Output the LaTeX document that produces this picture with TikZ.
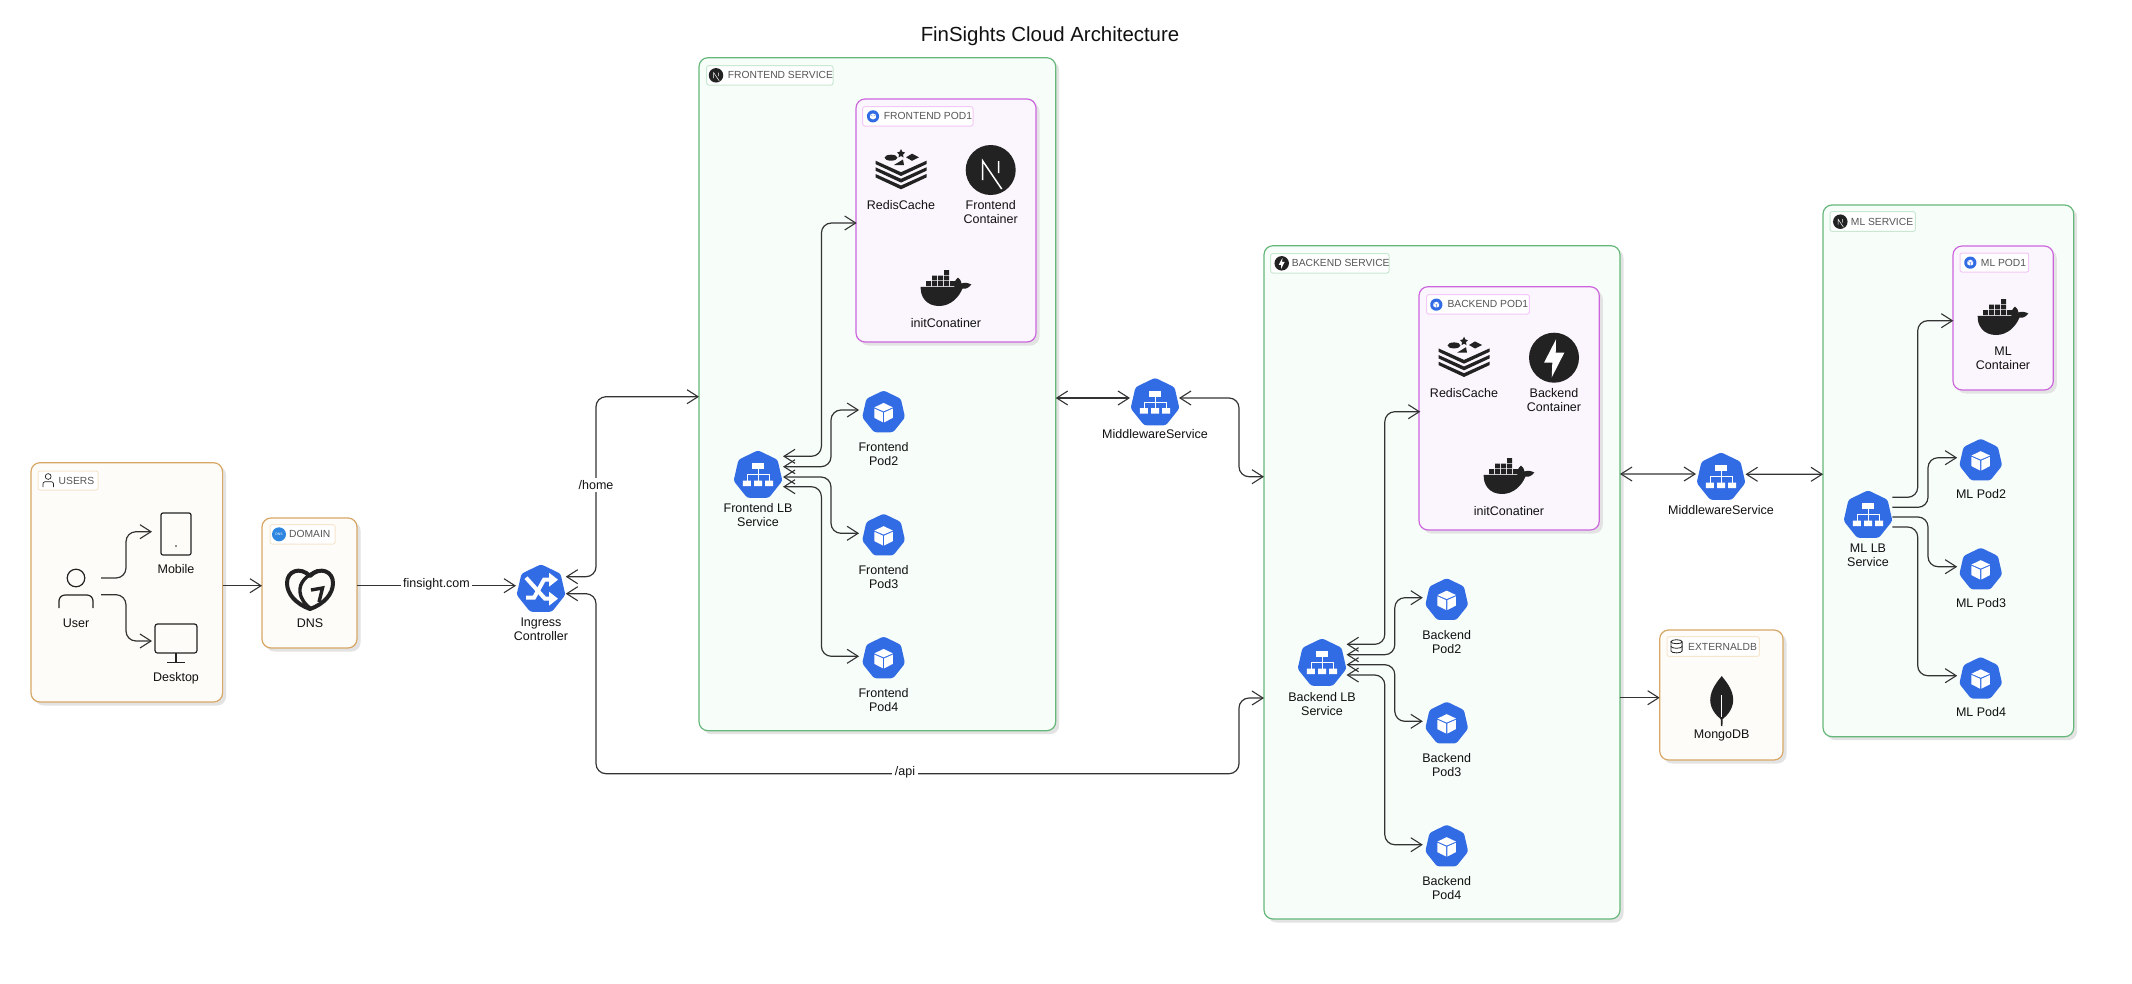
\documentclass[tikz,border=0pt]{standalone}
\usepackage{fontspec}
\setmainfont{Liberation Sans}
\usetikzlibrary{arrows.meta,shadows,calc}
\definecolor{kblue}{HTML}{326CE5}
\definecolor{ink}{HTML}{222222}
\definecolor{wire}{HTML}{333333}
\definecolor{txt}{HTML}{111111}
\definecolor{tagtxt}{HTML}{555555}
\definecolor{orb}{HTML}{D8A665}
\definecolor{orf}{HTML}{FDFCF8}
\definecolor{ort}{HTML}{F6E6CE}
\definecolor{grb}{HTML}{66B87A}
\definecolor{grf}{HTML}{F7FDF9}
\definecolor{grt}{HTML}{C8E8D2}
\definecolor{pkb}{HTML}{CC66DD}
\definecolor{pkf}{HTML}{FBF6FD}
\definecolor{pkt}{HTML}{F2C8F6}
\definecolor{dnsblue}{HTML}{2F86E0}
\tikzset{
  shad/.style={drop shadow={shadow xshift=3.5pt,shadow yshift=-3.5pt,fill=black!11,opacity=1}},
  boxbase/.style={line width=1.2pt,rounded corners=9pt,shad},
  orbox/.style={boxbase,draw=orb,fill=orf},
  grbox/.style={boxbase,draw=grb,fill=grf},
  pkbox/.style={boxbase,draw=pkb,fill=pkf},
  tagbase/.style={line width=1pt,rounded corners=2pt},
  ortag/.style={tagbase,draw=ort,fill=white},
  grtag/.style={tagbase,draw=grt,fill=white},
  pktag/.style={tagbase,draw=pkt,fill=white},
  tagtext/.style={anchor=west,inner sep=0pt,text=tagtxt,font=\fontsize{10.3}{12}\selectfont},
  lbl/.style={inner sep=0pt,yshift=-1pt,align=center,text=txt,font=\fontsize{12.5}{14}\selectfont},
  edgelbl/.style={fill=white,inner sep=2.5pt,text=txt,font=\fontsize{12.5}{14}\selectfont},
  iconb/.style={inner sep=0pt,outer sep=0pt,minimum size=#1},
  barb/.tip={Straight Barb[length=11pt,width=14pt,line width=1.1pt]},
  conn/.style={draw=wire,line width=1.2pt,rounded corners=10pt,-barb},
  conn2/.style={draw=wire,line width=1.2pt,rounded corners=10pt,barb-barb},
}
\newcommand{\boxn}[6]{%
  \pgfmathsetmacro\myw{#5-#3}\pgfmathsetmacro\myh{#6-#4}%
  \node[#1,minimum width=\myw pt,minimum height=\myh pt,anchor=north west,inner sep=0pt,outer sep=0pt] (#2) at (#3,#4) {};}
\newcommand{\atnode}[3][1]{\begin{scope}[shift={(#2.center)},x=1pt,y=1pt,scale=#1]#3\end{scope}}
\newcommand{\routed}[4][conn]{\draw[#1] (#2) -- (#2 -| #3) -- (#3 |- #4) -- (#4);}
% glyphs, y upward, about the origin
\newcommand{\hept}{\fill[kblue,rounded corners=2.5pt] (0,-1.3) ++(90:25) -- ($(0,-1.3)+(141.43:25)$) -- ($(0,-1.3)+(192.86:25)$) -- ($(0,-1.3)+(244.29:25)$) -- ($(0,-1.3)+(295.71:25)$) -- ($(0,-1.3)+(347.14:25)$) -- ($(0,-1.3)+(38.57:25)$) -- cycle;}
\newcommand{\cube}{\begin{scope}[yshift=-1.5pt]\fill[white] (0,11) -- (10.5,6) -- (0,1.5) -- (-10.5,6) -- cycle;
  \fill[white] (-10.5,4.6) -- (-.7,.2) -- (-.7,-11) -- (-10.5,-6) -- cycle;
  \fill[white] (10.5,4.6) -- (.7,.2) -- (.7,-11) -- (10.5,-6) -- cycle;\end{scope}}
\newcommand{\lbglyph}{\begin{scope}[yshift=-.7pt]\fill[white] (-6.3,5.7) rectangle (6.3,11.7);
  \draw[white,line width=.8pt] (0,5.7) -- (0,-6) (-11,-6) -- (-11,0) -- (11,0) -- (11,-6);
  \fill[white] (-15.2,-6) rectangle (-7.2,-11.3) (-4,-6) rectangle (4,-11.3) (7.2,-6) rectangle (15.2,-11.3);\end{scope}}
\newcommand{\ingglyph}{\begin{scope}[yshift=-.7pt]\draw[white,line width=4pt] (-15,11) -- (4,-10) -- (9,-10);
  \draw[white,line width=4pt] (-15,-9) -- (-7,-9) -- (3,9) -- (9,9);
  \fill[white] (8,16) -- (17,9) -- (8,2) -- cycle (8,-3) -- (17,-10) -- (8,-17) -- cycle;\end{scope}}
\newcommand{\nextic}[1]{\fill[ink] (0,0) circle (25);
  \draw[white,line width=#1] (-8,-10) -- (-8,9) -- (11,-19) (8,9) -- (8,-3);}
\newcommand{\fastic}{\fill[ink] (0,0) circle (25);
  \fill[white] (2,18.3) -- (-10,-5) -- (-1.7,-5) -- (-2.3,-19.7) -- (10.3,5) -- (1.7,5) -- cycle;}
\newcommand{\redis}{\fill[ink] \foreach \yy in {9.3,2.7,-4}{(-25.5,\yy) -- (0,\yy-11.5) -- (25.5,\yy) -- (25.5,\yy-3.4) -- (0,\yy-15.3) -- (-25.5,\yy-3.4) -- cycle};
  \fill[ink] (-10,12.3) ellipse (6.5 and 3);
  \fill[ink] (11,16.3) -- (18,12.7) -- (11,9.2) -- (5,12.7) -- cycle;
  \fill[ink] (-7,5) -- (3,5) -- (2,10.5) -- cycle;
  \fill[ink] (0,21) -- (1.3,18.3) -- (4,17.5) -- (2,15.5) -- (2.5,12.5) -- (0,14) -- (-2.5,12.5) -- (-2,15.5) -- (-4,17.5) -- (-1.3,18.3) -- cycle;}
\newcommand{\docker}{\fill[ink] (-25.3,1.2) -- (8.5,1.2) .. controls (7.5,5) and (9.5,8.5) .. (12,10.5) .. controls (14,9) and (15.5,6.5) .. (15.5,4.5) .. controls (18.5,6) and (22.5,5) .. (25.3,3.5) .. controls (23,.5) and (20,-1.5) .. (16.5,-.5) .. controls (13,-9) and (5,-18) .. (-7,-18) .. controls (-20,-18) and (-26,-8) .. (-25.3,1.2) -- cycle;
  \fill[ink] \foreach \xx in {-20,-14,-8,-2,4}{(\xx,2) rectangle ++(5.2,4.8)}
    \foreach \xx in {-14,-8,-2}{(\xx,7.6) rectangle ++(5.2,4.8)}
    (-2,13.2) rectangle ++(5.2,4.8);}
\newcommand{\leaf}{\fill[ink] (0,25) .. controls (3,21) and (11.5,12) .. (11.5,1) .. controls (11.5,-8) and (5,-15) .. (1,-18) -- (.7,-25) -- (-.7,-25) -- (-1,-18) .. controls (-5,-15) and (-11.5,-8) .. (-11.5,1) .. controls (-11.5,12) and (-3,21) .. (0,25) -- cycle;
  \draw[white,line width=.6pt] (0,6) -- (0,-16);}
\newcommand{\godaddy}{\draw[ink,line width=4pt,line join=round] (0,-20) .. controls (-14,-15) and (-23,-5) .. (-23,6) .. controls (-23,18) and (-10,23) .. (0,13) .. controls (10,23) and (23,18) .. (23,6) .. controls (23,-5) and (14,-15) .. (0,-20) -- cycle;
  \draw[ink,line width=3.4pt] (8,18.5) .. controls (-3,14) and (-11,7) .. (-10,-3) .. controls (-9,-11) and (-4,-16) .. (0,-19);
  \draw[ink,line width=3.4pt,line join=miter] (1,-1) -- (12.5,1) -- (9,-13);}
\begin{document}
\begin{tikzpicture}[x=1pt,y=-1pt]
\useasboundingbox (0,0) rectangle (2132,983);
\fill[white] (0,0) rectangle (2132,983);
\node[inner sep=0pt,text=txt,font=\fontsize{20.4}{24}\selectfont] (title) at (1050,36) {FinSights Cloud Architecture};
% containers
\boxn{orbox}{users}{31}{462.7}{222.6}{702}
\boxn{orbox}{domain}{262}{518}{357}{648}
\boxn{grbox}{fesvc}{699}{57.7}{1055.7}{730.7}
\boxn{pkbox}{fepod}{856}{99}{1036}{342}
\boxn{grbox}{besvc}{1264}{245.7}{1620}{919}
\boxn{pkbox}{bepod}{1419}{286.7}{1599.3}{530}
\boxn{grbox}{mlsvc}{1823}{205}{2073.7}{736.7}
\boxn{pkbox}{mlpod}{1953}{246}{2053.3}{390}
\boxn{orbox}{extdb}{1659.7}{630}{1783}{760}
% tags
\boxn{ortag}{tagusers}{38}{471}{98}{490}
\boxn{ortag}{tagdomain}{270}{524.7}{335}{544}
\boxn{grtag}{tagfe}{706.7}{65.7}{833}{85}
\boxn{pktag}{tagfepod}{862.7}{106.7}{973}{126}
\boxn{grtag}{tagbe}{1270.7}{253.7}{1389}{273}
\boxn{pktag}{tagbepod}{1426.7}{294.7}{1529.3}{314}
\boxn{grtag}{tagml}{1830}{211.7}{1915.3}{231.3}
\boxn{pktag}{tagmlpod}{1960}{253}{2028.7}{272}
\boxn{ortag}{tagdb}{1667}{636.7}{1759.3}{656.3}
\node[tagtext] (ttusers) at (58.5,480.5) {USERS};
\node[tagtext] (ttdomain) at (289,534.3) {DOMAIN};
\node[tagtext] (ttfe) at (727.7,75.3) {FRONTEND SERVICE};
\node[tagtext] (ttfepod) at (883.7,116.3) {FRONTEND POD1};
\node[tagtext] (ttbe) at (1291.7,263.3) {BACKEND SERVICE};
\node[tagtext] (ttbepod) at (1447.3,304.3) {BACKEND POD1};
\node[tagtext] (ttml) at (1850.7,221.5) {ML SERVICE};
\node[tagtext] (ttmlpod) at (1980.7,262.5) {ML POD1};
\node[tagtext] (ttdb) at (1688,646.5) {EXTERNALDB};
% anchor nodes of the icons
\node[iconb=34pt] (user) at (76,588.5) {};
\node[draw=ink,line width=1.2pt,rounded corners=2pt,minimum width=30pt,minimum height=42pt,inner sep=0pt,outer sep=0pt] (mobile) at (176,534) {};
\node[draw=ink,line width=1.2pt,rounded corners=2.5pt,minimum width=42pt,minimum height=29pt,inner sep=0pt,outer sep=0pt] (desktop) at (176,638.5) {};
\node[iconb=50pt] (dns) at (310,589) {};
\node[iconb=47pt] (ing) at (541,588) {};
\node[iconb=47pt] (felb) at (758,474) {};
\node[iconb=43pt] (fep2) at (883.6,411.3) {};
\node[iconb=43pt] (fep3) at (883.6,534.5) {};
\node[iconb=43pt] (fep4) at (883.6,657.3) {};
\node[iconb=47pt] (mwa) at (1155,401.5) {};
\node[iconb=47pt] (belb) at (1322,662) {};
\node[iconb=43pt] (bep2) at (1446.7,599) {};
\node[iconb=43pt] (bep3) at (1446.7,722.5) {};
\node[iconb=43pt] (bep4) at (1446.7,845.5) {};
\node[iconb=47pt] (mwb) at (1721,476) {};
\node[iconb=47pt] (mllb) at (1868,514) {};
\node[iconb=43pt] (mlp2) at (1980.7,459.5) {};
\node[iconb=43pt] (mlp3) at (1980.7,568.5) {};
\node[iconb=43pt] (mlp4) at (1980.7,677.7) {};
\node[iconb=50pt] (feredis) at (901,170) {};
\node[iconb=50pt] (fenext) at (990.7,170) {};
\node[iconb=50pt] (fedock) at (946,288) {};
\node[iconb=50pt] (beredis) at (1464,357.7) {};
\node[iconb=50pt] (befast) at (1554,357.7) {};
\node[iconb=50pt] (bedock) at (1509,476) {};
\node[iconb=50pt] (mldock) at (2003,317) {};
\node[iconb=50pt] (mongo) at (1721.7,701) {};
\node[iconb=14pt] (icusers) at (48.2,481) {};
\node[iconb=14pt] (icdomain) at (279,534.3) {};
\node[iconb=14pt] (icfe) at (716,75.3) {};
\node[iconb=14pt] (icfepod) at (873,116) {};
\node[iconb=14pt] (icbe) at (1281.7,263.3) {};
\node[iconb=14pt] (icbepod) at (1436.3,304.3) {};
\node[iconb=14pt] (icml) at (1840.3,221.7) {};
\node[iconb=14pt] (icmlpod) at (1970.3,262.3) {};
\node[iconb=14pt] (icdb) at (1676.5,646.3) {};
% routing channels and connector ends
\coordinate (chu) at (126,0);
\coordinate (chi) at (596,0);
\coordinate (chfa) at (821.4,0);
\coordinate (chfb) at (831,0);
\coordinate (chm) at (1239,0);
\coordinate (chba) at (1384.8,0);
\coordinate (chbb) at (1394.8,0);
\coordinate (chma) at (1917.7,0);
\coordinate (chmb) at (1928,0);
\coordinate (chbot) at (0,773.7);
\coordinate (ua) at ([xshift=8pt,yshift=10.5pt]user.east);
\coordinate (ub) at ([xshift=8pt,yshift=-6.2pt]user.east);
\coordinate (mt) at ([xshift=-9pt,yshift=2.3pt]mobile.west);
\coordinate (dt) at ([xshift=-3pt,yshift=-2.5pt]desktop.west);
\coordinate (usr) at ([yshift=-3.35pt]users.east);
\coordinate (dml) at ([yshift=-2.7pt]domain.west);
\coordinate (dmr) at ([yshift=-2.7pt]domain.east);
\coordinate (ingw) at ([xshift=-1.5pt,yshift=2.3pt]ing.west);
\coordinate (inga) at ([xshift=1.2pt,yshift=11.3pt]ing.east);
\coordinate (ingb) at ([xshift=1.2pt,yshift=-5.7pt]ing.east);
\coordinate (fesw) at ([yshift=-2.5pt]fesvc.west);
\coordinate (fese) at ([yshift=-3.8pt]fesvc.east);
\coordinate (mwaw) at ([xshift=-1.5pt,yshift=3.5pt]mwa.west);
\coordinate (mwae) at ([xshift=.5pt,yshift=3.5pt]mwa.east);
\coordinate (besa) at ([yshift=105.65pt]besvc.west);
\coordinate (besb) at ([yshift=-115.65pt]besvc.west);
\coordinate (bese) at ([yshift=108.35pt]besvc.east);
\coordinate (besd) at ([yshift=-115.35pt]besvc.east);
\coordinate (dbw) at ([yshift=-2.7pt]extdb.west);
\coordinate (mwbw) at ([xshift=-1.5pt,yshift=2pt]mwb.west);
\coordinate (mwbe) at ([xshift=1pt,yshift=1.7pt]mwb.east);
\coordinate (mlsw) at ([yshift=-3.45pt]mlsvc.west);
% frontend
\coordinate (fla) at ([xshift=1.5pt,yshift=17.7pt]felb.east);
\coordinate (flb) at ([xshift=1.5pt,yshift=7.3pt]felb.east);
\coordinate (flc) at ([xshift=1.5pt,yshift=-3pt]felb.east);
\coordinate (fld) at ([xshift=1.5pt,yshift=-12.7pt]felb.east);
\coordinate (fpt) at ([xshift=.7pt,yshift=-2.5pt]fepod.west);
\coordinate (f2t) at ([xshift=-3pt,yshift=1.3pt]fep2.west);
\coordinate (f3t) at ([xshift=-3pt,yshift=1.2pt]fep3.west);
\coordinate (f4t) at ([xshift=-3pt,yshift=1pt]fep4.west);
% backend
\coordinate (bla) at ([xshift=1pt,yshift=17.7pt]belb.east);
\coordinate (blb) at ([xshift=1pt,yshift=7.3pt]belb.east);
\coordinate (blc) at ([xshift=1pt,yshift=-2.7pt]belb.east);
\coordinate (bld) at ([xshift=1pt,yshift=-13pt]belb.east);
\coordinate (bpt) at ([xshift=1.3pt,yshift=-3.35pt]bepod.west);
\coordinate (b2t) at ([xshift=-2.4pt,yshift=1.3pt]bep2.west);
\coordinate (b3t) at ([xshift=-2.4pt,yshift=1.2pt]bep3.west);
\coordinate (b4t) at ([xshift=-2.4pt,yshift=.8pt]bep4.west);
% ml
\coordinate (mla) at ([xshift=.8pt,yshift=16.7pt]mllb.east);
\coordinate (mlb) at ([xshift=.8pt,yshift=6.7pt]mllb.east);
\coordinate (mlc) at ([xshift=.8pt,yshift=-3pt]mllb.east);
\coordinate (mld) at ([xshift=.8pt,yshift=-13pt]mllb.east);
\coordinate (mpt) at ([xshift=.3pt,yshift=-2.7pt]mlpod.west);
\coordinate (m2t) at ([xshift=-2pt,yshift=1.8pt]mlp2.west);
\coordinate (m3t) at ([xshift=-2pt,yshift=1.8pt]mlp3.west);
\coordinate (m4t) at ([xshift=-2pt,yshift=2pt]mlp4.west);
% connectors
\routed{ua}{chu}{mt}
\routed{ub}{chu}{dt}
\draw[conn] (usr) -- (dml);
\draw[conn] (dmr) -- (ingw);
\routed[conn2]{inga}{chi}{fesw}
\draw[conn2] (ingb) -- (ingb -| chi) -- (chi |- chbot) -- (chm |- chbot) -- (chm |- besb) -- (besb);
\routed[conn2]{fla}{chfa}{fpt}
\routed[conn2]{flb}{chfb}{f2t}
\routed[conn2]{flc}{chfb}{f3t}
\routed[conn2]{fld}{chfa}{f4t}
\draw[conn2] (fese) -- (mwaw);
\routed[conn2]{mwae}{chm}{besa}
\routed[conn2]{bla}{chba}{bpt}
\routed[conn2]{blb}{chbb}{b2t}
\routed[conn2]{blc}{chbb}{b3t}
\routed[conn2]{bld}{chba}{b4t}
\draw[conn2] (bese) -- (mwbw);
\draw[conn2] (mwbe) -- (mlsw);
\draw[conn] (besd) -- (dbw);
\routed{mla}{chma}{mpt}
\routed{mlb}{chmb}{m2t}
\routed{mlc}{chmb}{m3t}
\routed{mld}{chma}{m4t}
% edge labels
\node[edgelbl] (lfin) at (436.5,584) {finsight.com};
\node[edgelbl] (lhome) at (596,485) {/home};
\node[edgelbl] (lapi) at (905,772) {/api};
% icons
\atnode{user}{\draw[ink,line width=1.2pt] (0,10.5) circle (8.8);
  \draw[ink,line width=1.2pt,rounded corners=6pt] (-17,-19.5) -- (-17,-6.5) -- (17,-6.5) -- (17,-19.5);}
\fill[ink] (mobile.center) ++(0,12) circle (.8pt);
\atnode{desktop}{\draw[ink,line width=1.2pt] (0,-14.5) -- (0,-24) (-9,-24) -- (9,-24);}
\atnode{dns}{\godaddy}
\atnode{ing}{\hept\ingglyph}
\foreach \n in {felb,mwa,belb,mwb,mllb}{\atnode{\n}{\hept\lbglyph}}
\foreach \n in {fep2,fep3,fep4,bep2,bep3,bep4,mlp2,mlp3,mlp4}{\atnode[.88]{\n}{\hept\cube}}
\atnode{feredis}{\redis}
\atnode{beredis}{\redis}
\atnode{fenext}{\nextic{1.5pt}}
\atnode{befast}{\fastic}
\atnode{fedock}{\docker}
\atnode{bedock}{\docker}
\atnode{mldock}{\docker}
\atnode{mongo}{\leaf}
\atnode{icusers}{\draw[ink,line width=.7pt] (0,4.5) circle (2.9);
  \draw[ink,line width=.7pt,rounded corners=2pt] (-5.3,-6) -- (-5.3,-.8) -- (5.3,-.8) -- (5.3,-6);}
\atnode{icdomain}{\fill[dnsblue] (0,0) circle (7);\node[text=white,inner sep=0pt,font=\fontsize{3.5}{4}\selectfont] (dnsmini) at (0,0) {DNS};}
\atnode[.29]{icfe}{\nextic{.5pt}}
\atnode[.29]{icml}{\nextic{.5pt}}
\atnode[.29]{icbe}{\fastic}
\foreach \n in {icfepod,icbepod,icmlpod}{\atnode[.27]{\n}{\hept\cube}}
\atnode{icdb}{\draw[ink,line width=.8pt] (0,4.6) ellipse (5.6 and 2);
  \draw[ink,line width=.8pt] (-5.6,4.6) -- (-5.6,-4.6) arc (180:360:5.6 and 2) -- (5.6,4.6);
  \draw[ink,line width=.8pt] (-5.6,0) arc (180:360:5.6 and 2);}
% labels
\node[lbl] (luser) at (76,622) {User};
\node[lbl] (lmobile) at (176,568) {Mobile};
\node[lbl] (ldesktop) at (176,677) {Desktop};
\node[lbl] (ldns) at (310,622) {DNS};
\node[lbl] (ling) at (541,628.7) {Ingress\\Controller};
\node[lbl] (lfelb) at (758,514) {Frontend LB\\Service};
\node[lbl] (lfep2) at (883.6,453) {Frontend\\Pod2};
\node[lbl] (lfep3) at (883.6,576) {Frontend\\Pod3};
\node[lbl] (lfep4) at (883.6,699) {Frontend\\Pod4};
\node[lbl] (lmwa) at (1155,433.3) {MiddlewareService};
\node[lbl] (lfer) at (901,203.7) {RedisCache};
\node[lbl] (lfec) at (990.7,210.7) {Frontend\\Container};
\node[lbl] (lfei) at (946,322) {initConatiner};
\node[lbl] (lbelb) at (1322,702.7) {Backend LB\\Service};
\node[lbl] (lbep2) at (1446.7,641) {Backend\\Pod2};
\node[lbl] (lbep3) at (1446.7,764) {Backend\\Pod3};
\node[lbl] (lbep4) at (1446.7,887) {Backend\\Pod4};
\node[lbl] (lber) at (1464,392) {RedisCache};
\node[lbl] (lbec) at (1554,399) {Backend\\Container};
\node[lbl] (lbei) at (1509,510) {initConatiner};
\node[lbl] (lmwb) at (1721,509.3) {MiddlewareService};
\node[lbl] (lmllb) at (1868,554.7) {ML LB\\Service};
\node[lbl] (lmlc) at (2003,357.5) {ML\\Container};
\node[lbl] (lmlp2) at (1981,493.3) {ML Pod2};
\node[lbl] (lmlp3) at (1981,602.3) {ML Pod3};
\node[lbl] (lmlp4) at (1981,711.3) {ML Pod4};
\node[lbl] (lmongo) at (1721.7,734.7) {MongoDB};
\end{tikzpicture}
\end{document}
